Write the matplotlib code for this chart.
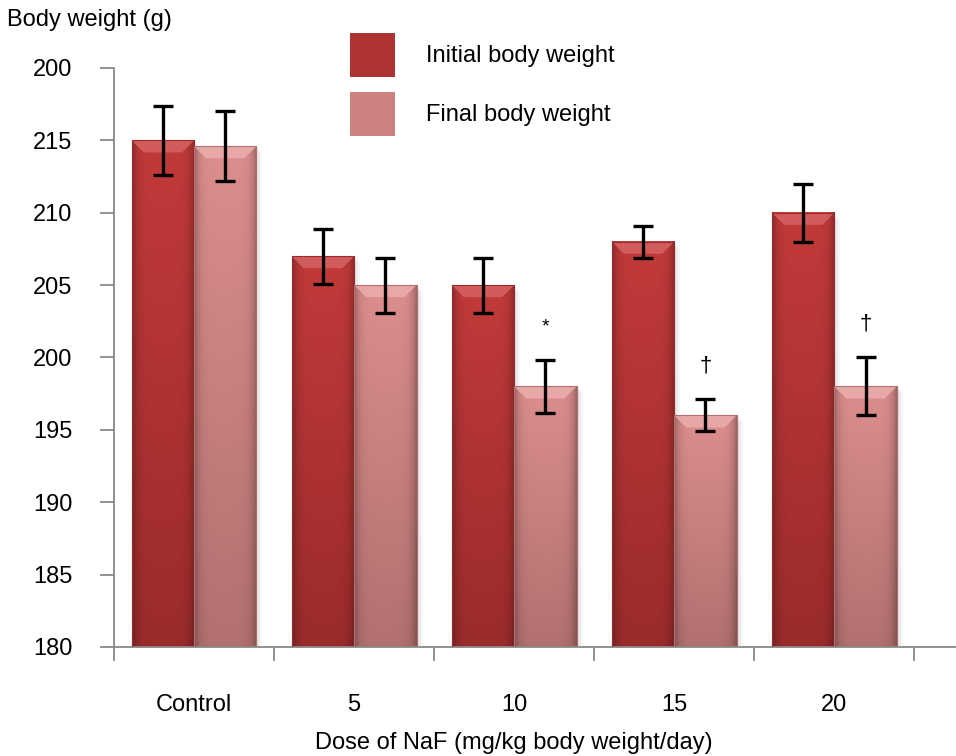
import numpy as np
import matplotlib.pyplot as plt
from matplotlib.patches import Patch, Polygon, Rectangle

plt.rcParams['font.family'] = ['Liberation Sans', 'DejaVu Sans']

# Datos: peso corporal (g) por dosis de NaF
grupos = ['Control', '5', '10', '15', '20']
peso_inicial = [215.0, 207.0, 205.0, 208.0, 210.0]
peso_final = [214.6, 205.0, 198.0, 196.0, 198.0]
error_inicial = [2.4, 1.9, 1.9, 1.1, 2.0]
error_final = [2.4, 1.9, 1.8, 1.1, 2.0]
marcas_final = ['', '', '*', '†', '†']

ticks_y = [220, 215, 210, 205, 200, 195, 190, 185, 180]
etiquetas_y = ['200', '215', '210', '205', '200', '195', '190', '185', '180']

Y_MIN, Y_MAX = 180, 220
ANCHO = 0.39
FUENTE = 17

fig = plt.figure(figsize=(9.56, 7.56), dpi=100)
ax = fig.add_axes([114 / 956, 1 - 647 / 756, 1 - 114 / 956, (647 - 68) / 756])
ax.set_xlim(-0.5, 4.76)
ax.set_ylim(Y_MIN, Y_MAX)

# Tamaño de un píxel en unidades de datos (para biseles y sombras)
px_x = (4.76 + 0.5) / 842
px_y = (Y_MAX - Y_MIN) / 579


def hex_rgb(c):
    c = c.lstrip('#')
    return np.array([int(c[i:i + 2], 16) for i in (0, 2, 4)]) / 255.0


def barra_degradada(x0, alto, color_sup, color_inf, color_bisel):
    """Dibuja una barra con degradado, bisel superior y sombra."""
    x1 = x0 + ANCHO
    # sombra suave a la derecha
    for k, a in zip([6, 4, 2], [0.06, 0.09, 0.12]):
        ax.add_patch(Rectangle((x0 + k * px_x, Y_MIN), ANCHO, alto - Y_MIN - k * px_y,
                               color='gray', alpha=a, lw=0, zorder=1))
    ny, nx = 120, 60
    t = np.linspace(0, 1, ny)[:, None, None]
    sup = hex_rgb(color_sup)[None, None, :]
    inf = hex_rgb(color_inf)[None, None, :]
    img = sup * (1 - t) + inf * t
    u = np.linspace(-1, 1, nx)
    borde = 1 - 0.28 * np.abs(u) ** 6
    img = img * borde[None, :, None]
    ax.imshow(np.clip(img, 0, 1), extent=[x0, x1, Y_MIN, alto], aspect='auto',
              origin='upper', zorder=2, interpolation='bilinear')
    # bisel superior
    dx, dy = 12 * px_x, 12 * px_y
    ax.add_patch(Polygon([(x0, alto), (x1, alto), (x1 - dx, alto - dy), (x0 + dx, alto - dy)],
                         closed=True, color=color_bisel, lw=0, alpha=0.8, zorder=3))
    ax.add_patch(Rectangle((x0, Y_MIN), ANCHO, alto - Y_MIN, fill=False,
                           ec=color_inf, lw=0.8, zorder=3))


x = np.arange(len(grupos))
for i in range(len(grupos)):
    barra_degradada(x[i] - ANCHO, peso_inicial[i], '#C23A3A', '#9B2B2B', '#D76666')
    barra_degradada(x[i], peso_final[i], '#DD8E8E', '#B27070', '#EDB0B0')

ax.errorbar(x - ANCHO / 2, peso_inicial, yerr=error_inicial, fmt='none', ecolor='black',
            elinewidth=2.4, capsize=7.5, capthick=2.4, zorder=6)
ax.errorbar(x + ANCHO / 2, peso_final, yerr=error_final, fmt='none', ecolor='black',
            elinewidth=2.4, capsize=7.5, capthick=2.4, zorder=6)

for i, m in enumerate(marcas_final):
    if m:
        ax.text(x[i] + ANCHO / 2, peso_final[i] + error_final[i] + 2.3, m,
                ha='center', va='center', fontsize=16 if m == '†' else 14, zorder=6)

# Ejes
for lado in ['top', 'right']:
    ax.spines[lado].set_visible(False)
for lado in ['left', 'bottom']:
    ax.spines[lado].set_color('#8A8A8A')
    ax.spines[lado].set_linewidth(1.3)

ax.set_yticks(ticks_y)
ax.set_yticklabels(etiquetas_y, fontsize=FUENTE)
ax.tick_params(axis='y', direction='out', length=10, width=1.3, color='#8A8A8A', pad=20)

ax.set_xticks(np.arange(-0.5, 5, 1))
ax.set_xticklabels([])
ax.tick_params(axis='x', which='major', direction='out', length=10, width=1.3, color='#8A8A8A')
ax.set_xticks(x, minor=True)
ax.set_xticklabels(grupos, minor=True, fontsize=FUENTE)
ax.tick_params(axis='x', which='minor', length=0, pad=34)

fig.text(7 / 956, 1 - 20 / 756, 'Body weight (g)', fontsize=FUENTE, va='center', ha='left')
ax.text(2, -0.165, 'Dose of NaF (mg/kg body weight/day)', fontsize=FUENTE, ha='center',
        va='center', transform=ax.get_xaxis_transform())

# Leyenda
manejadores = [Patch(facecolor='#AE3333', edgecolor='none'),
               Patch(facecolor='#CC8080', edgecolor='none')]
fig.legend(manejadores, ['Initial body weight', 'Final body weight'], loc='upper left',
           bbox_to_anchor=(350 / 956, 1 - 33 / 756), frameon=False, fontsize=FUENTE,
           handlelength=1.9, handleheight=2.5, handletextpad=1.3, labelspacing=0.62,
           borderpad=0, borderaxespad=0)

fig.savefig('out.png', dpi=100)
